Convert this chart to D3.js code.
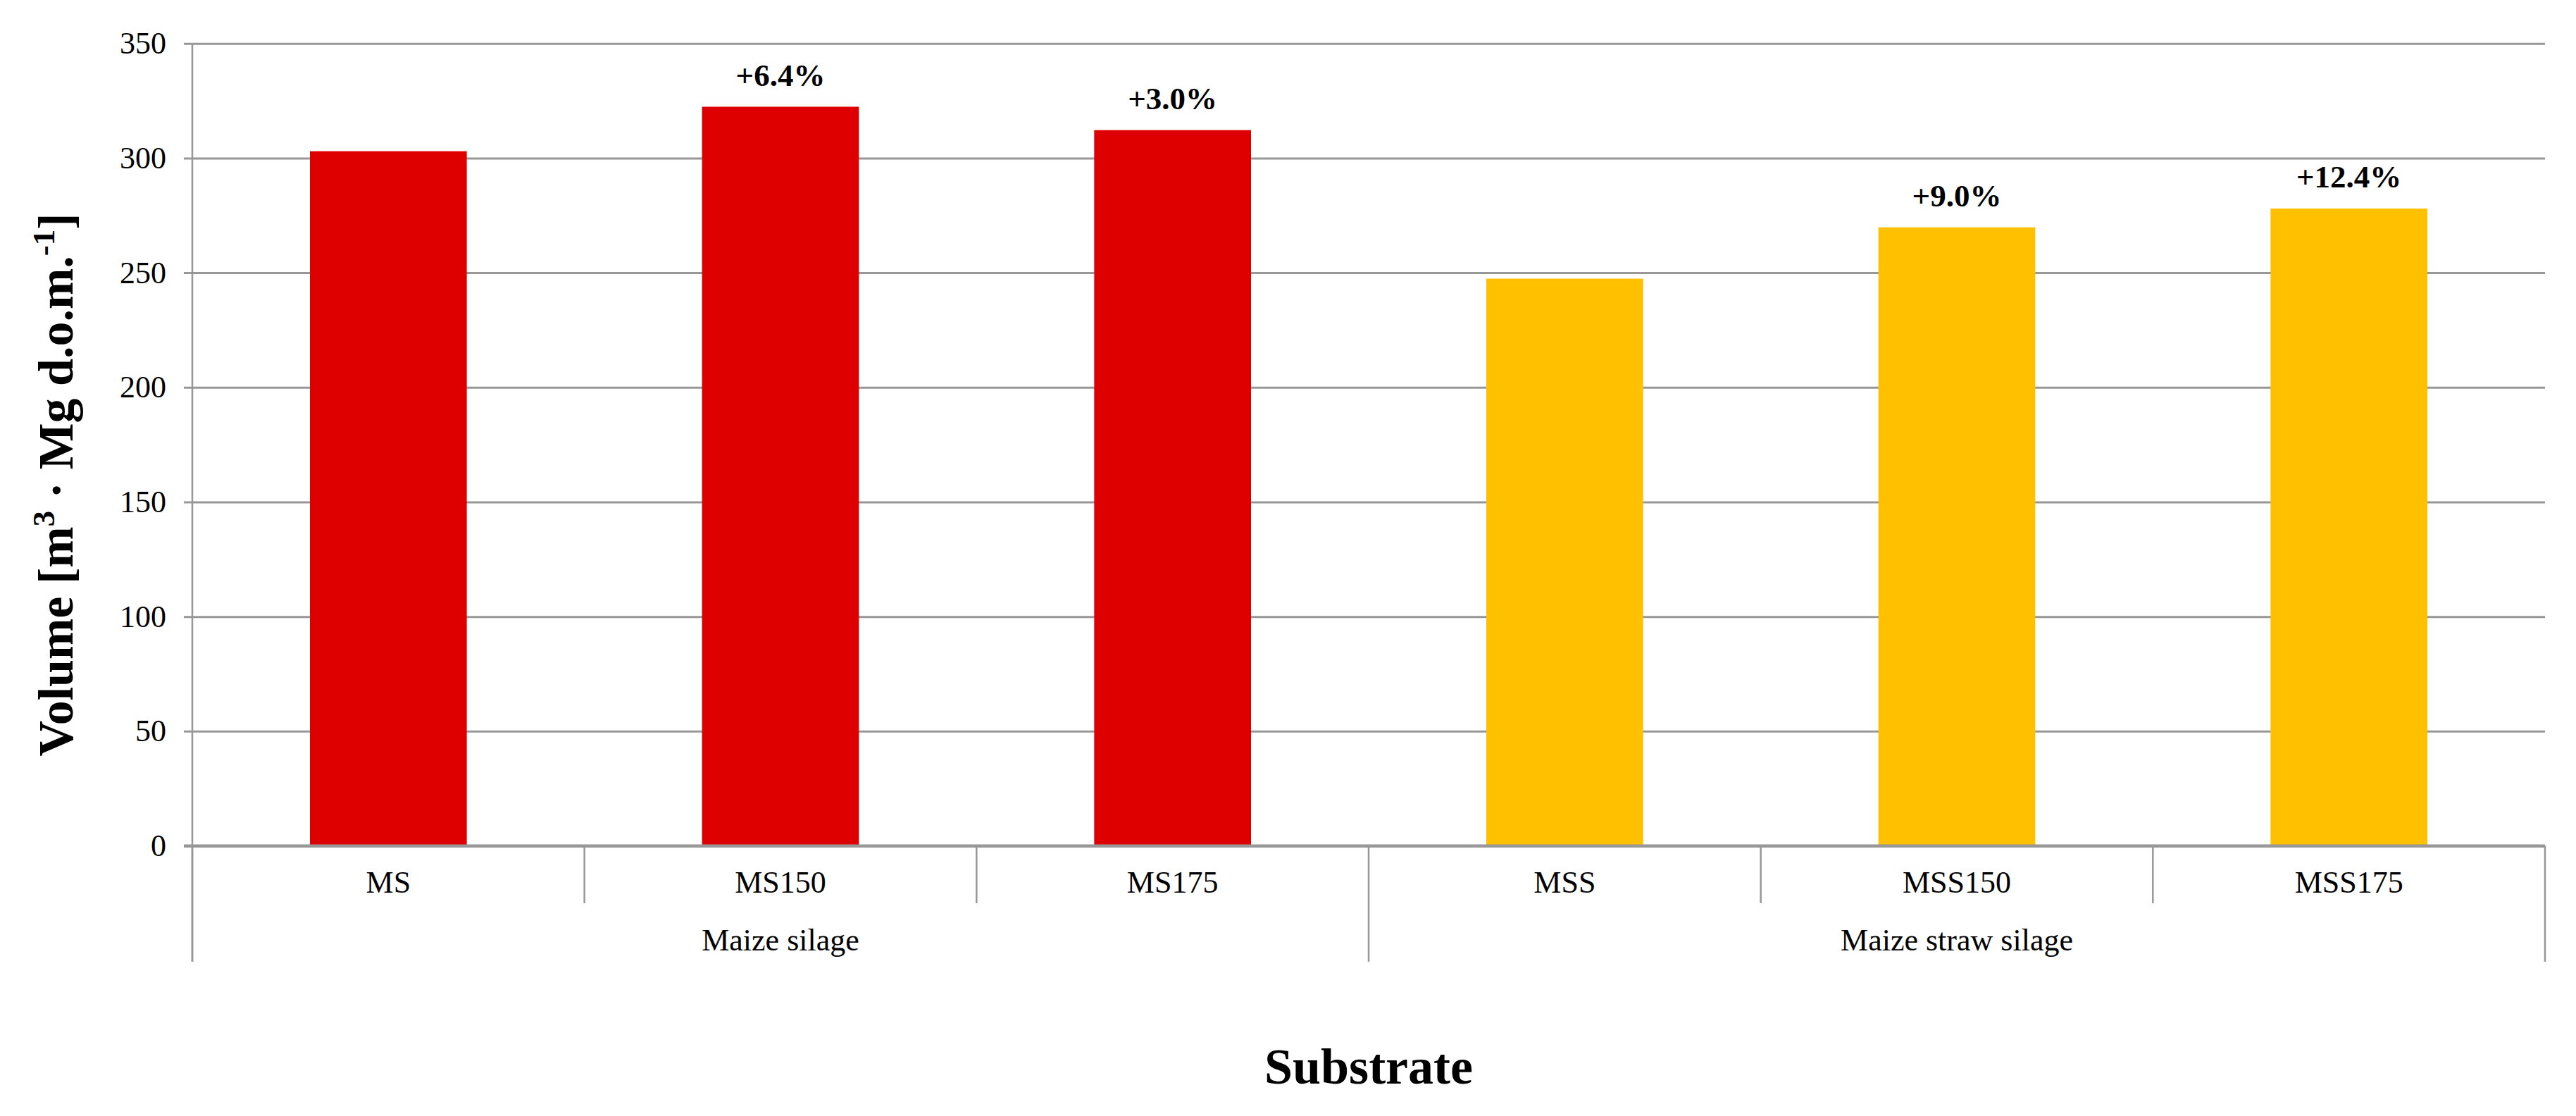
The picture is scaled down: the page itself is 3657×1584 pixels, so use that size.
<!DOCTYPE html>
<html>
<head>
<meta charset="utf-8">
<script src="https://cdn.jsdelivr.net/npm/d3@7"></script>
<style>
  html, body { margin: 0; padding: 0; background: #fff; }
  svg { display: block; }
  text { font-family: "Liberation Serif", "Times New Roman", serif; fill: #000; }
</style>
</head>
<body>
<script>
// ---- data ----
const categories = ["MS", "MS150", "MS175", "MSS", "MSS150", "MSS175"];
const groupNames = ["Maize silage", "Maize straw silage"];
const groupOfCategory = [0, 0, 0, 1, 1, 1];
const values = [303.0, 322.4, 312.2, 247.4, 269.8, 278.0];
const changeLabels = ["", "+6.4%", "+3.0%", "", "+9.0%", "+12.4%"];
const groupColors = ["#DE0000", "#FFC000"];
const yTicks = [0, 50, 100, 150, 200, 250, 300, 350];

// ---- layout ----
const W = 3657, H = 1584;
const plotLeft = 273, plotRight = 3613, plotTop = 61.7, plotBottom = 1200.5;
const catLineBottom = 1282, groupLineBottom = 1365;

const svg = d3.select("body").append("svg").attr("width", W).attr("height", H);

const x = d3.scaleBand().domain(categories).range([plotLeft, plotRight])
  .paddingInner(0.6).paddingOuter(0.3);
const y = d3.scaleLinear().domain([0, 350]).range([plotBottom, plotTop]);
const step = x.step();

// gridlines (with left tick)
const yAxis = d3.axisLeft(y).tickValues(yTicks).tickSize(-(plotRight - plotLeft)).tickSizeOuter(0).tickPadding(37);
const gy = svg.append("g").attr("transform", `translate(${plotLeft},0)`).call(yAxis);
gy.select(".domain").remove();
gy.selectAll(".tick line")
  .attr("x1", -12)
  .attr("stroke", "#979797")
  .attr("stroke-width", d => d === 0 ? 4 : 3);
gy.selectAll(".tick text")
  .attr("font-size", 44)
  .attr("font-family", "Liberation Serif")
  .attr("fill", "#000");

// y axis vertical line
svg.append("line").attr("x1", plotLeft).attr("x2", plotLeft).attr("y1", plotTop).attr("y2", groupLineBottom)
  .attr("stroke", "#979797").attr("stroke-width", 2.5);

// bars
svg.append("g").selectAll("rect").data(categories).join("rect")
  .attr("x", d => x(d))
  .attr("width", x.bandwidth())
  .attr("y", (d, i) => y(values[i]))
  .attr("height", (d, i) => y(0) - y(values[i]))
  .attr("fill", (d, i) => groupColors[groupOfCategory[i]]);

// zero line on top of bars
svg.append("line").attr("x1", plotLeft - 12).attr("x2", plotRight).attr("y1", y(0)).attr("y2", y(0))
  .attr("stroke", "#979797").attr("stroke-width", 4);

// category separators
const boundaries = d3.range(categories.length + 1);
svg.append("g").selectAll("line").data(boundaries).join("line")
  .attr("x1", i => plotLeft + i * step)
  .attr("x2", i => plotLeft + i * step)
  .attr("y1", y(0))
  .attr("y2", i => (i === 0 || i === categories.length || groupOfCategory[i] !== groupOfCategory[i - 1]) ? groupLineBottom : catLineBottom)
  .attr("stroke", "#979797").attr("stroke-width", 2.5);

// category labels
svg.append("g").selectAll("text").data(categories).join("text")
  .attr("x", d => x(d) + x.bandwidth() / 2)
  .attr("y", 1267)
  .attr("text-anchor", "middle")
  .attr("font-size", 44)
  .text(d => d);

// group labels
svg.append("g").selectAll("text").data(groupNames).join("text")
  .attr("x", (g, gi) => {
    const cats = categories.filter((c, i) => groupOfCategory[i] === gi);
    const x0 = x(cats[0]) - step * x.paddingInner() / 2;
    const x1 = x(cats[cats.length - 1]) + x.bandwidth() + step * x.paddingInner() / 2;
    return (x0 + x1) / 2;
  })
  .attr("y", 1349)
  .attr("text-anchor", "middle")
  .attr("font-size", 44)
  .text(d => d);

// change labels above bars
svg.append("g").selectAll("text").data(categories).join("text")
  .attr("x", d => x(d) + x.bandwidth() / 2)
  .attr("y", (d, i) => y(values[i]) - 30)
  .attr("text-anchor", "middle")
  .attr("font-size", 45)
  .attr("font-weight", "bold")
  .text((d, i) => changeLabels[i]);

// x axis title
svg.append("text")
  .attr("x", (plotLeft + plotRight) / 2)
  .attr("y", 1538)
  .attr("text-anchor", "middle")
  .attr("font-size", 72)
  .attr("font-weight", "bold")
  .text("Substrate");

// y axis title
const yt = svg.append("text")
  .attr("transform", "translate(103,688) rotate(-90)")
  .attr("text-anchor", "middle")
  .attr("font-size", 70)
  .attr("font-weight", "bold");
yt.append("tspan").text("Volume [m");
yt.append("tspan").attr("font-size", 45).attr("dy", -26).text("3");
yt.append("tspan").attr("dy", 26).text(" · Mg d.o.m.");
yt.append("tspan").attr("font-size", 45).attr("dy", -26).text("-1");
yt.append("tspan").attr("dy", 26).text("]");
</script>
</body>
</html>
